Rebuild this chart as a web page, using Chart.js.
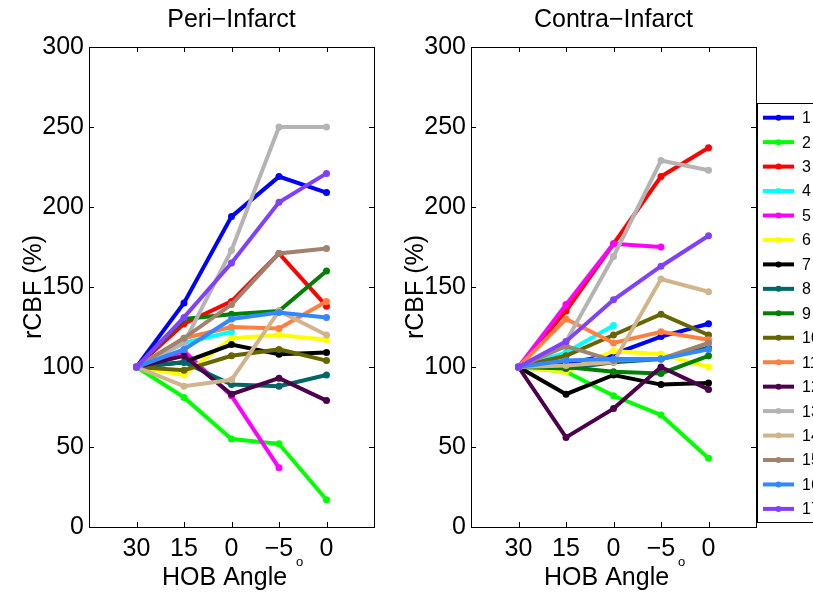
<!DOCTYPE html>
<html>
<head>
<meta charset="utf-8">
<script src="https://cdn.jsdelivr.net/npm/chart.js@4.4.0/dist/chart.umd.min.js"></script>
<style>
  body { margin: 0; background: #fff; }
  #wrap { position: relative; width: 813px; height: 592px; overflow: hidden; }
  #periChart { position: absolute; left: 0; top: 0; }
  #contraChart { position: absolute; left: 382px; top: 0; }
</style>
</head>
<body>
<div id="wrap">
  <canvas id="periChart" width="382" height="592"></canvas>
  <canvas id="contraChart" width="431" height="592"></canvas>
</div>
<script>
// x positions and their tick labels (HOB angle sequence)
const xPos = [1, 2, 3, 4, 5];
const angleLabels = ["30", "15", "0", "\u22125", "0"];
const subjects = ["1", "2", "3", "4", "5", "6", "7", "8", "9", "10", "11", "12", "13", "14", "15", "16", "17"];
const colors = [
  "#0000ff", "#00ff00", "#ff0000", "#00ffff", "#ff00ff", "#ffff00",
  "#000000", "#006666", "#008000", "#666600", "#ff8040", "#4c004c",
  "#b4b4b4", "#d2b48c", "#a0826e", "#3388ff", "#8040ff",
];

// rCBF (%) per subject, Peri-Infarct
const periData = [
  [100, 140, 194, 219, 209],
  [100, 81, 55, 52, 17],
  [100, 127, 141, 171, 138],
  [100, 115, 122, null, null],
  [100, 110, 82, 37, null],
  [100, 95, 118, 120, 117],
  [100, 103, 114, 108, 109],
  [100, 103, 89, 88, 95],
  [100, 130, 133, 135, 160],
  [100, 98, 107, 111, 104],
  [100, 118, 125, 124, 141],
  [100, 107, 83, 93, 79],
  [100, 115, 173, 250, 250],
  [100, 88, 92, 135, 120],
  [100, 118, 139, 171, 174],
  [100, 111, 130, 134, 131],
  [100, 131, 165, 203, 221],
];

// rCBF (%) per subject, Contra-Infarct
const contraData = [
  [100, 102, 108, 119, 127],
  [100, 97, 82, 70, 43],
  [100, 135, 177, 219, 237],
  [100, 109, 126, null, null],
  [100, 139, 177, 175, null],
  [100, 97, 110, 108, 100],
  [100, 83, 95, 89, 90],
  [100, 99, 103, 105, 112],
  [100, 100, 97, 96, 107],
  [100, 107, 120, 133, 120],
  [100, 130, 115, 122, 117],
  [100, 56, 74, 100, 86],
  [100, 116, 169, 229, 223],
  [100, 101, 103, 155, 147],
  [100, 113, 104, 105, 115],
  [100, 104, 105, 105, 111],
  [100, 116, 142, 163, 182],
];

const FONT = "'Liberation Sans', Arial, Helvetica, sans-serif";

// box + inward ticks on all four sides, like the original figure
const frame = {
  id: "frame",
  afterDraw(chart) {
    const ctx = chart.ctx;
    const a = chart.chartArea;
    const xs = chart.scales.x;
    const ys = chart.scales.y;
    ctx.save();
    ctx.strokeStyle = "#000";
    ctx.lineWidth = 1;
    ctx.strokeRect(Math.round(a.left) + 0.5, Math.round(a.top) + 0.5,
      Math.round(a.right - a.left), Math.round(a.bottom - a.top));
    ctx.beginPath();
    xs.ticks.forEach((t) => {
      const px = Math.round(xs.getPixelForValue(t.value)) + 0.5;
      ctx.moveTo(px, a.bottom);
      ctx.lineTo(px, a.bottom - 5);
      ctx.moveTo(px, a.top);
      ctx.lineTo(px, a.top + 5);
    });
    ys.ticks.forEach((t) => {
      const py = Math.round(ys.getPixelForValue(t.value)) + 0.5;
      ctx.moveTo(a.left, py);
      ctx.lineTo(a.left + 5, py);
      ctx.moveTo(a.right, py);
      ctx.lineTo(a.right - 5, py);
    });
    ctx.stroke();
    // degree sign after the axis title
    ctx.fillStyle = "#000";
    ctx.font = "13px " + FONT;
    ctx.textAlign = "center";
    ctx.textBaseline = "alphabetic";
    ctx.fillText("o", (a.left + a.right) / 2 + 68, 566);
    ctx.restore();
  },
};

// boxed legend to the right of the Contra panel (runs off the page edge)
const sideLegend = {
  id: "sideLegend",
  afterDraw(chart) {
    const ctx = chart.ctx;
    const left = chart.chartArea.right + 1;
    ctx.save();
    ctx.fillStyle = "#fff";
    ctx.fillRect(left, 103, 200, 419);
    ctx.strokeStyle = "#000";
    ctx.lineWidth = 1;
    ctx.strokeRect(left + 0.5, 103.5, 200, 419);
    ctx.font = "16px " + FONT;
    ctx.textBaseline = "middle";
    ctx.textAlign = "left";
    chart.data.datasets.forEach((ds, i) => {
      const y = 117.7 + i * 24.45;
      ctx.strokeStyle = ds.borderColor;
      ctx.lineWidth = 4;
      ctx.beginPath();
      ctx.moveTo(left + 6, y);
      ctx.lineTo(left + 37, y);
      ctx.stroke();
      ctx.fillStyle = ds.borderColor;
      ctx.beginPath();
      ctx.arc(left + 21.5, y, 3, 0, Math.PI * 2);
      ctx.fill();
      ctx.fillStyle = "#000";
      ctx.fillText(ds.label, left + 45, y + 1);
    });
    ctx.restore();
  },
};

function buildDatasets(rows) {
  return rows.map((row, i) => ({
    label: subjects[i],
    data: row.map((v, j) => ({ x: xPos[j], y: v })),
    borderColor: colors[i],
    backgroundColor: colors[i],
    borderWidth: 4,
    pointRadius: 3.5,
    pointBorderWidth: 0,
    pointBackgroundColor: colors[i],
    tension: 0,
    spanGaps: false,
    order: rows.length - i, // later subjects on top
  }));
}

function makeChart(canvasId, titleText, rows, padRight, extraPlugins) {
  return new Chart(document.getElementById(canvasId), {
    type: "line",
    data: { datasets: buildDatasets(rows) },
    options: {
      responsive: false,
      animation: false,
      devicePixelRatio: 1,
      layout: { padding: { left: 0, right: padRight, top: 0, bottom: 0 } },
      plugins: {
        legend: { display: false },
        tooltip: { enabled: false },
        title: {
          display: true,
          fullSize: false,
          text: titleText,
          color: "#000",
          font: { family: FONT, size: 25, weight: "normal" },
          padding: { top: 5, bottom: 12 },
        },
      },
      scales: {
        x: {
          type: "linear",
          min: 0,
          max: 6,
          afterBuildTicks: (s) => {
            s.ticks = xPos.map((v) => ({ value: v }));
          },
          afterFit: (s) => {
            s.height = 65;
          },
          grid: { display: false, drawTicks: false },
          border: { display: false },
          ticks: {
            color: "#000",
            font: { family: FONT, size: 25 },
            padding: 7,
            maxRotation: 0,
            autoSkip: false,
            callback: (v) => {
              const k = xPos.indexOf(v);
              return k >= 0 ? angleLabels[k] : "";
            },
          },
          title: {
            display: true,
            text: "HOB Angle  ",
            color: "#000",
            font: { family: FONT, size: 25 },
            padding: { top: 0, bottom: -1 },
          },
        },
        y: {
          min: 0,
          max: 300,
          afterFit: (s) => {
            s.width = 89;
          },
          grid: { display: false, drawTicks: false },
          border: { display: false },
          ticks: {
            stepSize: 50,
            color: "#000",
            font: { family: FONT, size: 25 },
            padding: 5,
          },
          title: {
            display: true,
            text: "rCBF (%)",
            color: "#000",
            font: { family: FONT, size: 25 },
            padding: { top: 19, bottom: 0 },
          },
        },
      },
    },
    plugins: [frame].concat(extraPlugins),
  });
}

makeChart("periChart", "Peri\u2212Infarct", periData, 8, []);
makeChart("contraChart", "Contra\u2212Infarct", contraData, 57, [sideLegend]);
</script>
</body>
</html>
